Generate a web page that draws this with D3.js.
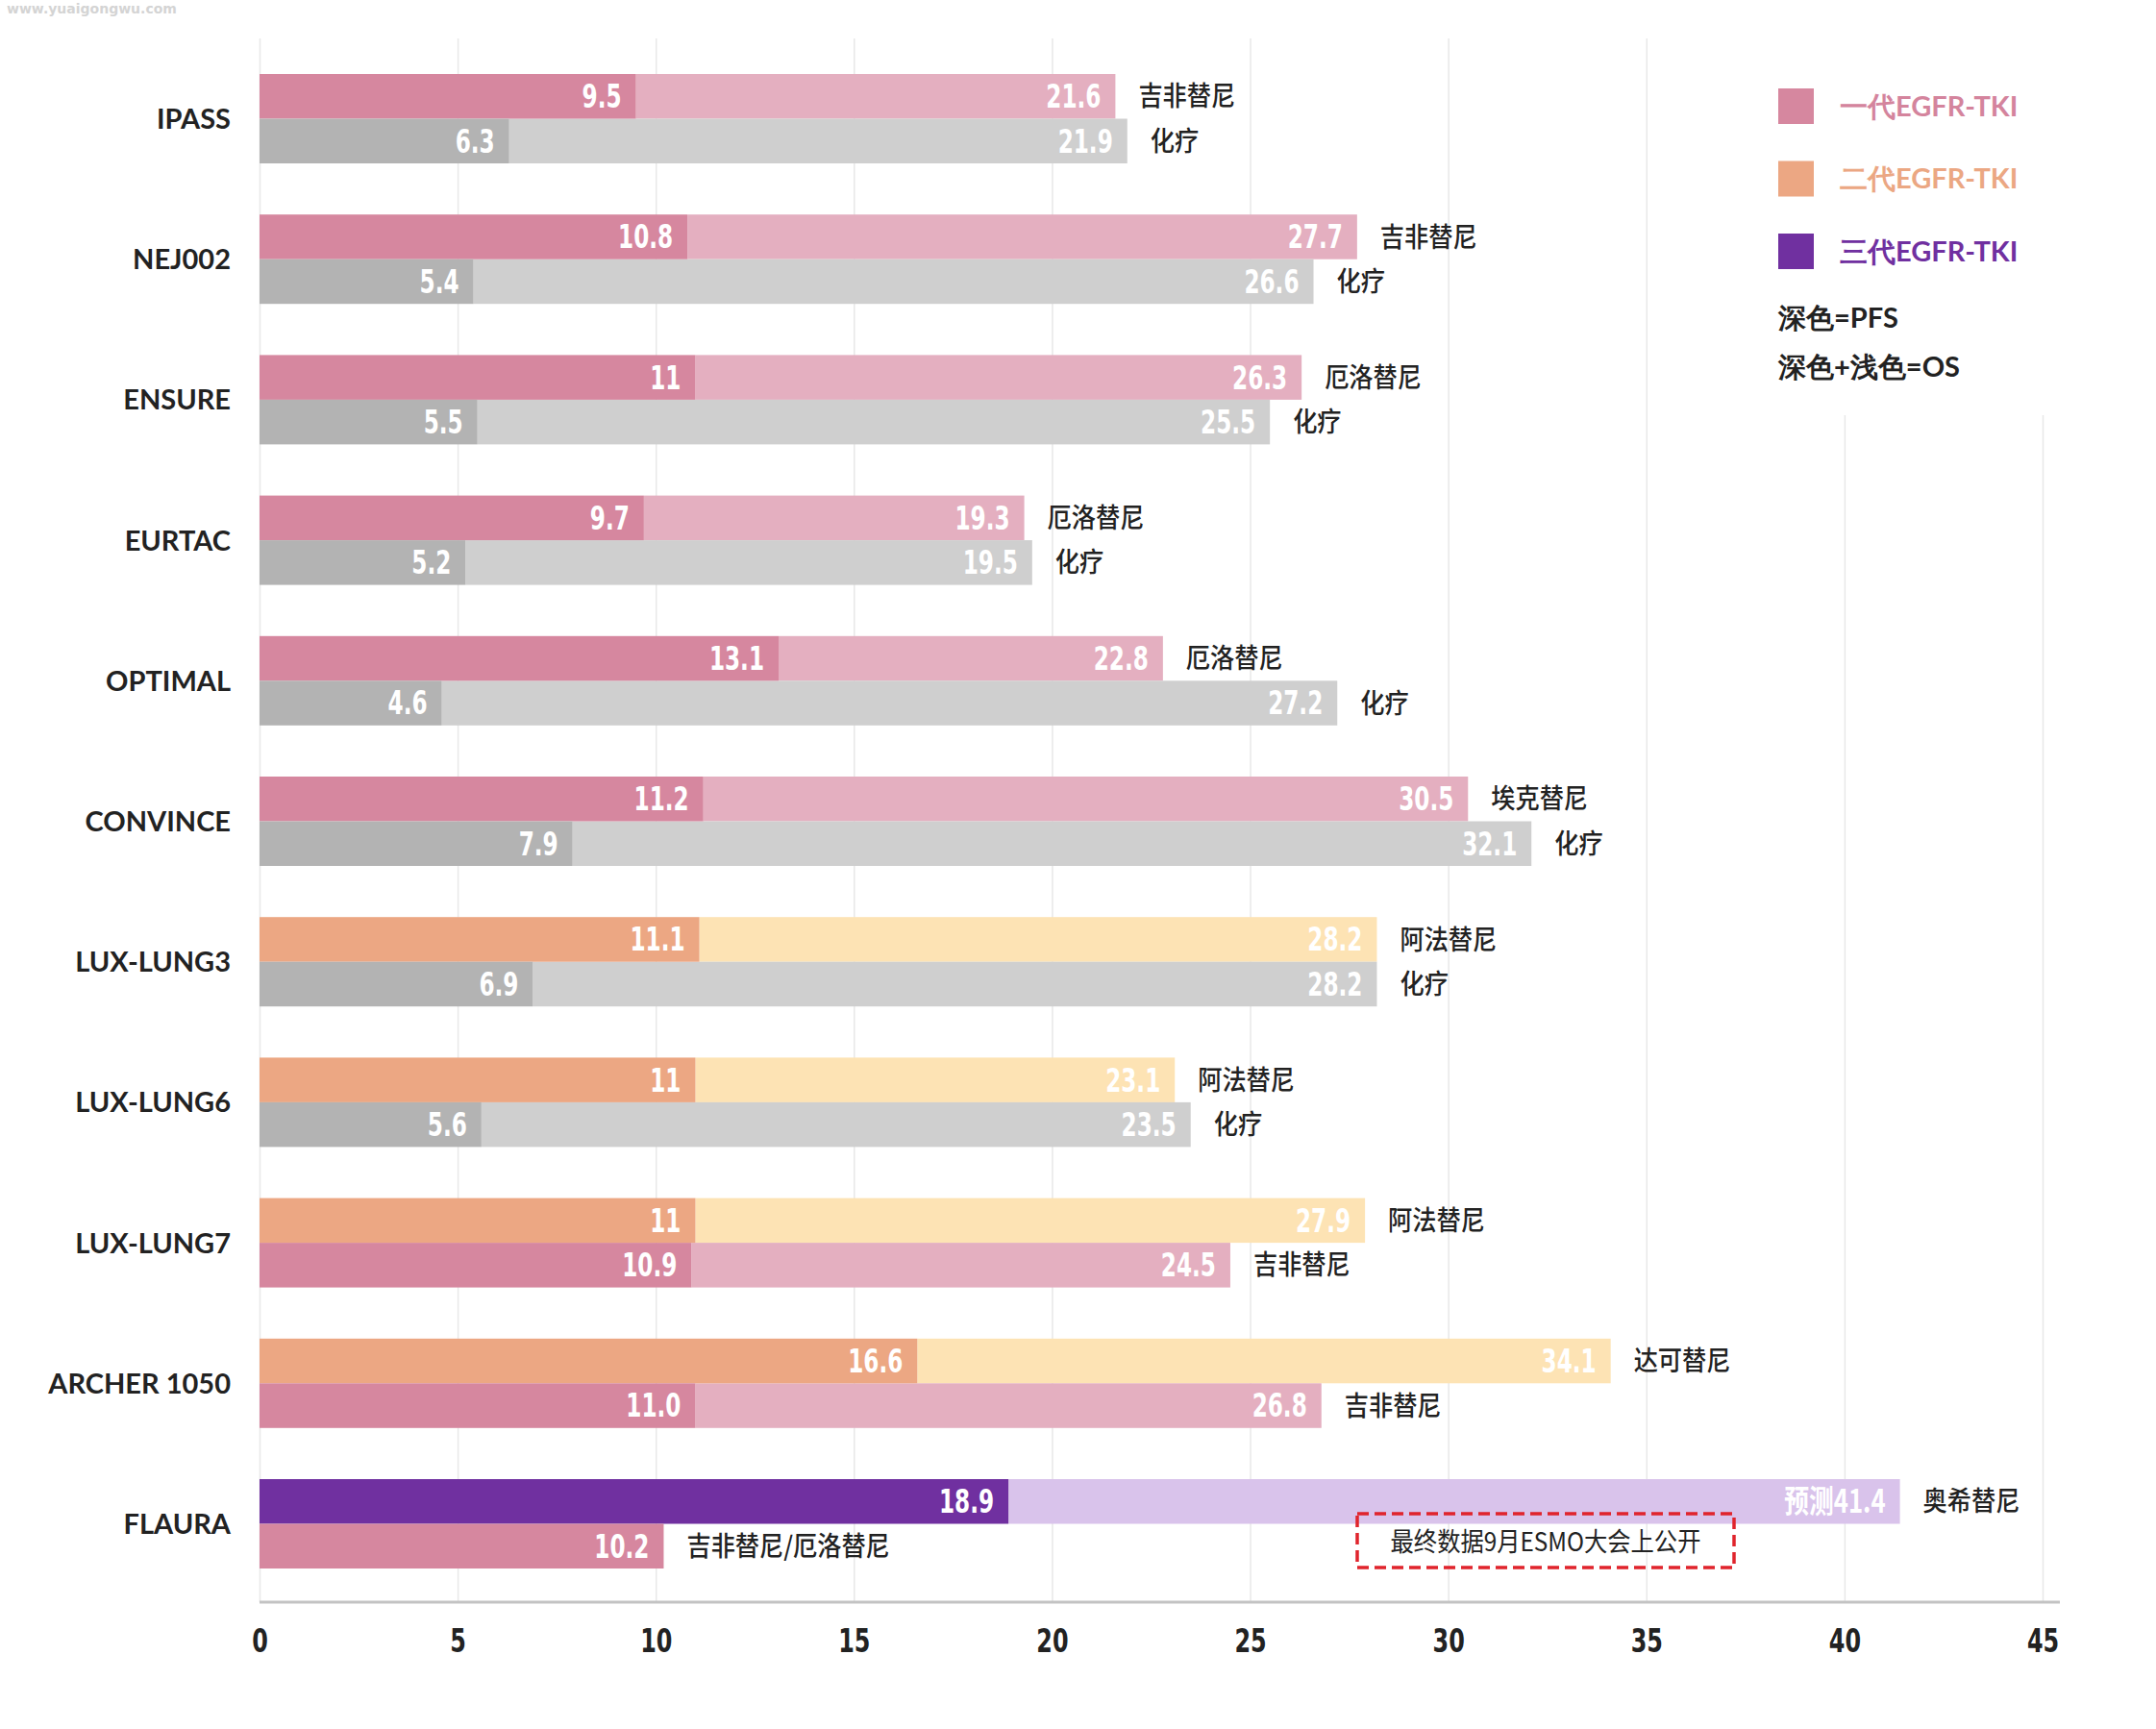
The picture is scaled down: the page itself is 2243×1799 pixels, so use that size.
<!DOCTYPE html>
<html><head><meta charset="utf-8">
<script src="https://cdn.jsdelivr.net/npm/d3@7/dist/d3.min.js"></script>
<style>
html,body{margin:0;padding:0;background:#fff;}
svg{display:block;}
</style></head>
<body>
<script>
const categories = ["IPASS","NEJ002","ENSURE","EURTAC","OPTIMAL","CONVINCE","LUX-LUNG3","LUX-LUNG6","LUX-LUNG7","ARCHER 1050","FLAURA"];
const topPFS   = [9.5, 10.8, 11, 9.7, 13.1, 11.2, 11.1, 11, 11, 16.6, 18.9];
const topOS    = [21.6, 27.7, 26.3, 19.3, 22.8, 30.5, 28.2, 23.1, 27.9, 34.1, 41.4];
const topPFSLabel = ["9.5","10.8","11","9.7","13.1","11.2","11.1","11","11","16.6","18.9"];
const topOSLabel  = ["21.6","27.7","26.3","19.3","22.8","30.5","28.2","23.1","27.9","34.1","预测41.4"];
const topDrug  = ["吉非替尼","吉非替尼","厄洛替尼","厄洛替尼","厄洛替尼","埃克替尼","阿法替尼","阿法替尼","阿法替尼","达可替尼","奥希替尼"];
const topGen   = ["gen1","gen1","gen1","gen1","gen1","gen1","gen2","gen2","gen2","gen2","gen3"];
const botPFS   = [6.3, 5.4, 5.5, 5.2, 4.6, 7.9, 6.9, 5.6, 10.9, 11.0, 10.2];
const botOS    = [21.9, 26.6, 25.5, 19.5, 27.2, 32.1, 28.2, 23.5, 24.5, 26.8, null];
const botPFSLabel = ["6.3","5.4","5.5","5.2","4.6","7.9","6.9","5.6","10.9","11.0","10.2"];
const botOSLabel  = ["21.9","26.6","25.5","19.5","27.2","32.1","28.2","23.5","24.5","26.8",null];
const botDrug  = ["化疗","化疗","化疗","化疗","化疗","化疗","化疗","化疗","吉非替尼","吉非替尼","吉非替尼/厄洛替尼"];
const botGen   = ["chemo","chemo","chemo","chemo","chemo","chemo","chemo","chemo","gen1","gen1","gen1"];
const xTicks   = [0,5,10,15,20,25,30,35,40,45];
const legendItems = ["一代EGFR-TKI","二代EGFR-TKI","三代EGFR-TKI"];
const legendGens  = ["gen1","gen2","gen3"];
const noteLines   = ["深色=PFS","深色+浅色=OS"];
const annotation  = "最终数据9月ESMO大会上公开";
const watermark   = "www.yuaigongwu.com";

const palette = {
  gen1:  {dark:"#d6879f", light:"#e4afc0", text:"#d4849d"},
  gen2:  {dark:"#eca783", light:"#fde3b4", text:"#eba783"},
  gen3:  {dark:"#7030a0", light:"#d9c3eb", text:"#7030a0"},
  chemo: {dark:"#b3b3b3", light:"#cfcfcf", text:"#999"}
};

const W = 2243, H = 1799;
const svg = d3.select("body").append("svg").attr("width", W).attr("height", H);
svg.append("rect").attr("width", W).attr("height", H).attr("fill", "#fff");

const numFont = "'Liberation Sans Narrow','DejaVu Sans Condensed',Roboto,sans-serif";
const latFont = "Lato,'Noto Sans',sans-serif";
const cjkFont = "'Noto Sans CJK SC','Noto Sans',sans-serif";
const SQ = 0.78; // horizontal squeeze for condensed numerals

// watermark
svg.append("text").attr("x", 7).attr("y", 14).text(watermark)
  .attr("font-family", "'DejaVu Sans',sans-serif").attr("font-weight", "bold")
  .attr("font-size", 14).attr("fill", "#d4d4d4");

const x = d3.scaleLinear().domain([0, 45]).range([270, 2125]);
const y = d3.scaleBand().domain(categories).range([50.4, 1658.6]).paddingInner(0.364).paddingOuter(0.182);
const bh = y.bandwidth() / 2;
const axisY = 1667;

// gridlines
const grid = svg.append("g").attr("transform", `translate(0,${axisY})`)
  .call(d3.axisBottom(x).tickValues(xTicks).tickSize(-(axisY - 40)).tickFormat(""));
grid.select(".domain").remove();
grid.selectAll("line").attr("stroke", "#e8e8e8").attr("stroke-width", 1.5);

// legend white background covering gridlines
svg.append("rect").attr("x", 1835).attr("y", 40).attr("width", 330).attr("height", 392).attr("fill", "#fff");

// axis line
svg.append("line").attr("x1", x(0)).attr("x2", 2143).attr("y1", axisY).attr("y2", axisY)
  .attr("stroke", "#c3c3c3").attr("stroke-width", 3);

// tick labels
const ax = svg.append("g").attr("transform", `translate(0,${axisY})`)
  .call(d3.axisBottom(x).tickValues(xTicks).tickSize(0).tickPadding(0));
ax.select(".domain").remove();
ax.selectAll("text").attr("y", 40).attr("dy", "0.36em").attr("transform", `scale(${SQ},1)`)
  .attr("font-family", numFont).attr("font-weight", "bold").attr("font-size", 34).attr("fill", "#222");

// category labels
const yAx = svg.append("g").attr("transform", `translate(240,0)`)
  .call(d3.axisLeft(y).tickSize(0).tickPadding(0));
yAx.select(".domain").remove();
yAx.selectAll("text").attr("dy", "0.36em").attr("font-family", latFont).attr("font-weight", "bold")
  .attr("font-size", 29).attr("fill", "#222");

// rows data
const rows = [];
categories.forEach((c, i) => {
  rows.push({cat: c, pos: 0, pfs: topPFS[i], os: topOS[i], pl: topPFSLabel[i], ol: topOSLabel[i], drug: topDrug[i], gen: topGen[i]});
  rows.push({cat: c, pos: 1, pfs: botPFS[i], os: botOS[i], pl: botPFSLabel[i], ol: botOSLabel[i], drug: botDrug[i], gen: botGen[i]});
});
const rowY = d => y(d.cat) + d.pos * bh;

const g = svg.append("g");
// light (OS) segments
g.selectAll("rect.os").data(rows.filter(d => d.os != null)).join("rect").attr("class", "os")
  .attr("x", d => x(d.pfs)).attr("y", rowY).attr("width", d => x(d.os) - x(d.pfs)).attr("height", bh)
  .attr("fill", d => palette[d.gen].light);
// dark (PFS) segments
g.selectAll("rect.pfs").data(rows).join("rect").attr("class", "pfs")
  .attr("x", x(0)).attr("y", rowY).attr("width", d => x(d.pfs) - x(0)).attr("height", bh)
  .attr("fill", d => palette[d.gen].dark);

// value labels (condensed)
g.selectAll("text.pl").data(rows).join("text").attr("class", "pl")
  .attr("transform", d => `translate(${x(d.pfs) - 15},${rowY(d) + bh / 2}) scale(${SQ},1)`)
  .attr("dy", "0.36em").attr("text-anchor", "end").text(d => d.pl)
  .attr("font-family", numFont).attr("font-weight", "bold").attr("font-size", 33).attr("fill", "#fff");
g.selectAll("text.ol").data(rows.filter(d => d.os != null)).join("text").attr("class", "ol")
  .attr("transform", d => `translate(${x(d.os) - 15},${rowY(d) + bh / 2}) scale(${SQ},1)`)
  .attr("dy", "0.36em").attr("text-anchor", "end").text(d => d.ol)
  .attr("font-family", d => /[^\d.]/.test(d.ol) ? cjkFont : numFont)
  .attr("font-weight", "bold").attr("font-size", 33).attr("fill", "#fff");

// drug labels
g.selectAll("text.drug").data(rows).join("text").attr("class", "drug")
  .attr("transform", d => `translate(${x(d.os != null ? d.os : d.pfs) + 24},${rowY(d) + bh / 2}) scale(0.9,1)`)
  .attr("dy", "0.36em").text(d => d.drug)
  .attr("font-family", cjkFont).attr("font-weight", 500).attr("font-size", 28).attr("fill", "#222");

// annotation dashed box
svg.append("rect").attr("x", 1412).attr("y", 1575).attr("width", 392).attr("height", 56)
  .attr("fill", "none").attr("stroke", "#e0242c").attr("stroke-width", 3.5)
  .attr("stroke-dasharray", "12,6");
svg.append("text").attr("transform", "translate(1608,1604) scale(0.9,1)").attr("dy", "0.36em").attr("text-anchor", "middle")
  .text(annotation).attr("font-family", cjkFont).attr("font-size", 27).attr("fill", "#222");

// legend
const lg = svg.append("g");
legendItems.forEach((t, i) => {
  const yy = 92 + i * 75.5;
  lg.append("rect").attr("x", 1850).attr("y", yy).attr("width", 37).attr("height", 37)
    .attr("fill", palette[legendGens[i]].dark);
  lg.append("text").attr("x", 1914).attr("y", yy + 18.5).attr("dy", "0.36em").text(t)
    .attr("font-family", latFont).attr("font-weight", "bold").attr("font-size", 29)
    .attr("fill", palette[legendGens[i]].text);
});
noteLines.forEach((t, i) => {
  lg.append("text").attr("x", 1850).attr("y", 331 + i * 51).attr("dy", "0.36em").text(t)
    .attr("font-family", latFont).attr("font-weight", "bold").attr("font-size", 29).attr("fill", "#222");
});
</script>
</body></html>
